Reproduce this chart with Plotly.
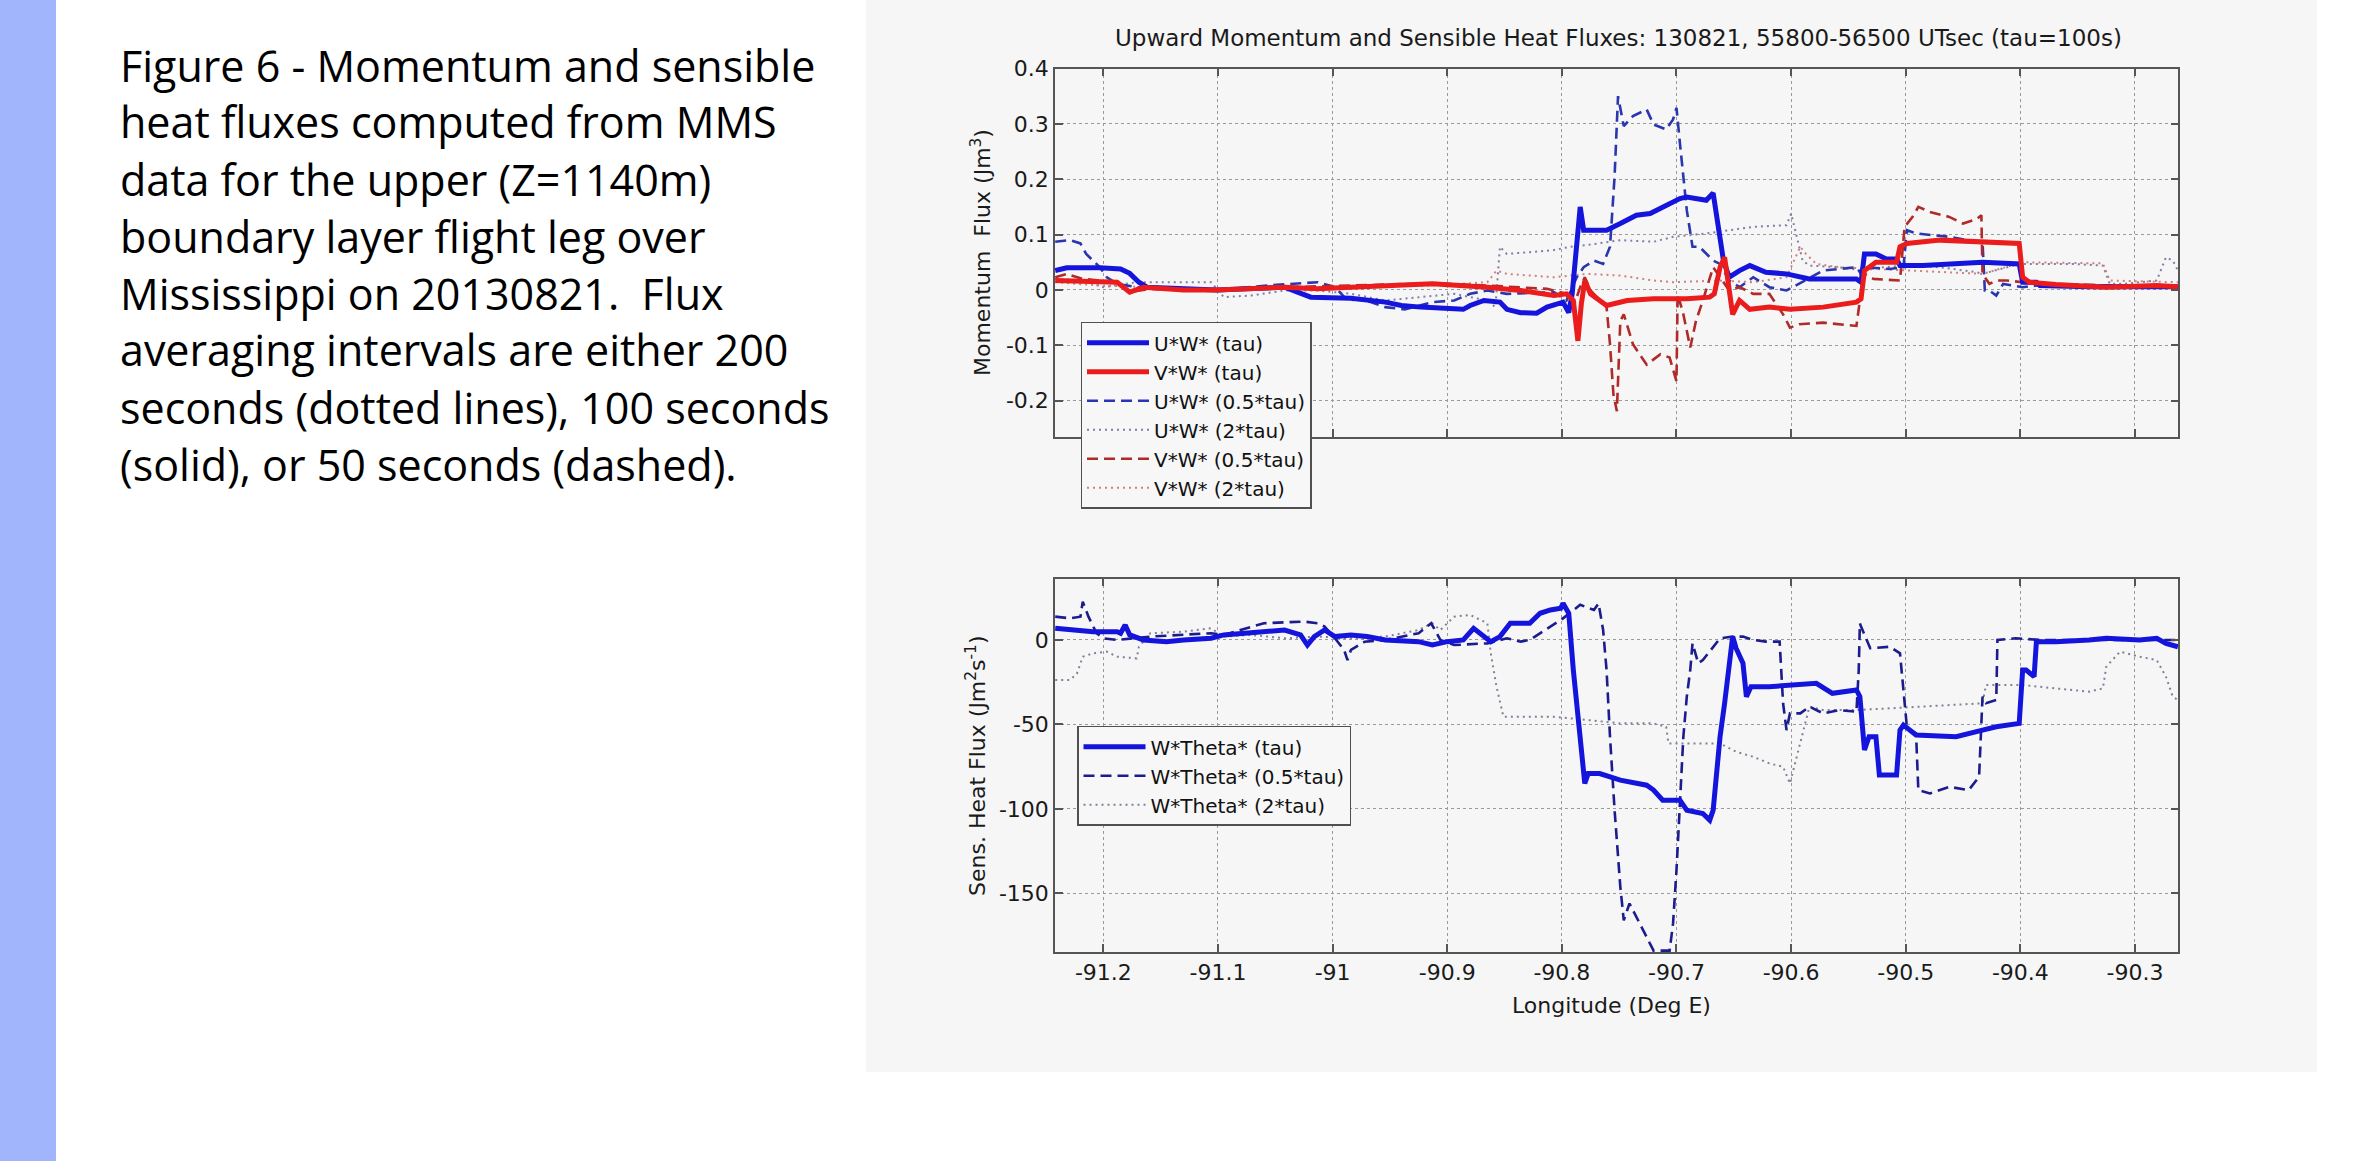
import plotly.graph_objects as go

W, H = 2354, 1161

# ---------------- data (longitude in deg E) ----------------
# Upper panel: momentum flux
uw_tau_lon = [-91.242, -91.232, -91.203, -91.185, -91.177, -91.169, -91.162, -91.101, -91.042, -91.025,
              -91.019, -90.984, -90.954, -90.940, -90.923, -90.886, -90.880, -90.868, -90.854, -90.848,
              -90.836, -90.822, -90.813, -90.799, -90.794, -90.791, -90.787, -90.784, -90.781, -90.761,
              -90.749, -90.735, -90.723, -90.714, -90.697, -90.691, -90.674, -90.668, -90.664, -90.659,
              -90.654, -90.645, -90.636, -90.622, -90.604, -90.593, -90.584, -90.543, -90.539, -90.536,
              -90.526, -90.517, -90.508, -90.505, -90.485, -90.433, -90.401, -90.398, -90.386, -90.383,
              -90.340, -90.2625]
uw_tau_val = [0.035, 0.040, 0.040, 0.038, 0.030, 0.014, 0.005, 0.000, 0.005, -0.007,
              -0.013, -0.015, -0.022, -0.028, -0.031, -0.035, -0.028, -0.019, -0.022, -0.035,
              -0.041, -0.042, -0.031, -0.022, -0.041, -0.007, 0.078, 0.150, 0.108, 0.108,
              0.120, 0.135, 0.138, 0.147, 0.165, 0.168, 0.162, 0.175, 0.126, 0.053,
              0.023, 0.035, 0.044, 0.032, 0.029, 0.023, 0.020, 0.020, 0.014, 0.065,
              0.065, 0.056, 0.056, 0.044, 0.044, 0.050, 0.047, 0.014, 0.014, 0.008,
              0.006, 0.006]

vw_tau_lon = [-91.242, -91.218, -91.188, -91.177, -91.165, -91.130, -91.101, -91.042, -91.013, -90.984,
              -90.954, -90.913, -90.865, -90.836, -90.807, -90.796, -90.790, -90.786, -90.783, -90.780,
              -90.775, -90.761, -90.743, -90.720, -90.691, -90.671, -90.667, -90.662, -90.658, -90.654,
              -90.651, -90.645, -90.636, -90.619, -90.601, -90.572, -90.543, -90.539, -90.536, -90.526,
              -90.508, -90.505, -90.499, -90.470, -90.433, -90.401, -90.398, -90.392, -90.369, -90.325,
              -90.281, -90.2625]
vw_tau_val = [0.017, 0.015, 0.014, -0.004, 0.005, 0.000, 0.000, 0.005, 0.002, 0.005,
              0.008, 0.011, 0.005, -0.001, -0.010, -0.007, -0.019, -0.092, -0.025, 0.017,
              -0.007, -0.028, -0.019, -0.016, -0.016, -0.013, -0.007, 0.041, 0.059, -0.007,
              -0.044, -0.019, -0.035, -0.031, -0.035, -0.031, -0.022, -0.016, 0.035, 0.050,
              0.050, 0.078, 0.084, 0.090, 0.087, 0.084, 0.023, 0.014, 0.010, 0.005,
              0.008, 0.006]

uw_half_lon = [-91.242, -91.229, -91.220, -91.215, -91.209, -91.203, -91.197, -91.188, -91.171, -91.101,
               -91.057, -91.013, -90.998, -90.987, -90.975, -90.954, -90.937, -90.913, -90.894, -90.880,
               -90.865, -90.848, -90.807, -90.796, -90.787, -90.781, -90.772, -90.764, -90.758, -90.754,
               -90.751, -90.746, -90.738, -90.726, -90.720, -90.709, -90.703, -90.700, -90.697, -90.691,
               -90.686, -90.680, -90.668, -90.662, -90.654, -90.645, -90.633, -90.619, -90.604, -90.593,
               -90.572, -90.543, -90.539, -90.536, -90.514, -90.502, -90.499, -90.491, -90.479, -90.462,
               -90.438, -90.433, -90.431, -90.427, -90.421, -90.415, -90.398, -90.386, -90.369, -90.2625]
uw_half_val = [0.087, 0.090, 0.084, 0.065, 0.053, 0.041, 0.023, 0.011, 0.005, 0.000,
               0.008, 0.014, 0.005, -0.019, -0.016, -0.031, -0.035, -0.022, -0.019, -0.007,
               -0.001, -0.007, -0.004, -0.019, 0.023, 0.041, 0.053, 0.047, 0.078, 0.205,
               0.350, 0.296, 0.314, 0.326, 0.299, 0.290, 0.308, 0.329, 0.265, 0.144,
               0.078, 0.078, 0.053, 0.047, 0.017, 0.005, 0.023, 0.005, -0.001, 0.011,
               0.035, 0.041, 0.029, 0.041, 0.038, 0.041, 0.108, 0.102, 0.099, 0.096,
               0.087, 0.087, -0.001, -0.001, -0.010, 0.011, 0.005, 0.008, 0.010, 0.006]

uw_2tau_lon = [-91.242, -91.218, -91.200, -91.171, -91.106, -91.095, -91.071, -91.042, -91.013, -90.984,
               -90.954, -90.925, -90.894, -90.865, -90.858, -90.854, -90.848, -90.807, -90.793, -90.778,
               -90.749, -90.720, -90.703, -90.674, -90.633, -90.604, -90.600, -90.595, -90.590, -90.584,
               -90.558, -90.537, -90.520, -90.499, -90.470, -90.438, -90.433, -90.401, -90.354, -90.328,
               -90.322, -90.310, -90.281, -90.273, -90.267, -90.2625]
uw_2tau_val = [0.020, 0.017, 0.005, 0.014, 0.014, -0.013, -0.010, -0.001, -0.001, -0.007,
               -0.019, -0.013, -0.007, -0.019, -0.031, 0.078, 0.065, 0.072, 0.078, 0.081,
               0.090, 0.087, 0.096, 0.102, 0.114, 0.117, 0.138, 0.096, 0.053, 0.044,
               0.041, 0.035, 0.041, 0.044, 0.041, 0.032, 0.029, 0.047, 0.047, 0.044,
               0.011, 0.011, 0.017, 0.059, 0.053, 0.035]

vw_half_lon = [-91.242, -91.232, -91.218, -91.203, -91.188, -91.177, -91.159, -91.101, -91.042, -90.984,
               -90.913, -90.865, -90.813, -90.796, -90.790, -90.784, -90.780, -90.775, -90.761, -90.758,
               -90.755, -90.752, -90.749, -90.746, -90.738, -90.726, -90.714, -90.706, -90.700, -90.699,
               -90.694, -90.688, -90.683, -90.677, -90.668, -90.662, -90.654, -90.645, -90.633, -90.619,
               -90.607, -90.601, -90.593, -90.572, -90.543, -90.540, -90.536, -90.528, -90.505, -90.501,
               -90.494, -90.489, -90.479, -90.462, -90.450, -90.438, -90.434, -90.433, -90.427, -90.421,
               -90.412, -90.398, -90.369, -90.2625]
vw_half_val = [0.023, 0.029, 0.020, 0.017, 0.014, -0.004, 0.002, -0.001, 0.005, 0.008,
               0.012, 0.008, 0.002, -0.007, -0.031, 0.005, 0.023, -0.001, -0.031, -0.098,
               -0.189, -0.219, -0.056, -0.044, -0.098, -0.135, -0.116, -0.122, -0.165, -0.007,
               -0.044, -0.104, -0.056, -0.019, 0.041, 0.023, -0.001, 0.005, -0.007, -0.007,
               -0.044, -0.068, -0.062, -0.059, -0.065, -0.019, 0.029, 0.020, 0.017, 0.114,
               0.132, 0.150, 0.141, 0.132, 0.120, 0.128, 0.135, 0.029, 0.011, 0.017,
               0.017, 0.014, 0.010, 0.006]

vw_2tau_lon = [-91.242, -91.203, -91.159, -91.101, -91.013, -90.913, -90.865, -90.857, -90.848, -90.807,
               -90.778, -90.749, -90.720, -90.703, -90.662, -90.633, -90.604, -90.598, -90.592, -90.587,
               -90.578, -90.558, -90.499, -90.433, -90.398, -90.328, -90.322, -90.2625]
vw_2tau_val = [0.014, 0.008, 0.005, 0.002, 0.005, 0.008, 0.014, 0.035, 0.029, 0.023,
               0.029, 0.026, 0.017, 0.014, 0.017, 0.014, 0.023, 0.050, 0.078, 0.065,
               0.047, 0.041, 0.035, 0.029, 0.050, 0.048, 0.017, 0.014]

# Lower panel: sensible heat flux
wt_tau_lon = [-91.242, -91.218, -91.209, -91.188, -91.185, -91.181, -91.177, -91.165, -91.145, -91.130,
              -91.106, -91.095, -91.071, -91.042, -91.028, -91.022, -91.016, -91.007, -90.998, -90.984,
              -90.970, -90.954, -90.925, -90.913, -90.900, -90.886, -90.877, -90.870, -90.862, -90.854,
              -90.845, -90.828, -90.819, -90.810, -90.801, -90.799, -90.794, -90.790, -90.784, -90.780,
              -90.777, -90.767, -90.749, -90.726, -90.720, -90.712, -90.697, -90.691, -90.677, -90.671,
              -90.668, -90.662, -90.658, -90.654, -90.651, -90.648, -90.642, -90.639, -90.635, -90.619,
              -90.593, -90.578, -90.564, -90.543, -90.540, -90.536, -90.532, -90.526, -90.523, -90.508,
              -90.505, -90.502, -90.491, -90.456, -90.433, -90.421, -90.401, -90.398, -90.395, -90.388,
              -90.386, -90.369, -90.340, -90.325, -90.296, -90.281, -90.273, -90.2625]
wt_tau_val = [6.9, 5.9, 4.9, 4.9, 4.0, 8.9, 3.0, 0.0, -1.0, 0.0,
              1.0, 3.0, 4.0, 5.9, 3.0, -3.0, 2.0, 5.9, 2.0, 3.0,
              2.0, 0.0, -1.0, -3.0, -1.0, 0.0, 6.9, 3.0, -1.0, 2.0,
              9.9, 9.9, 15.8, 17.8, 18.8, 21.7, 15.8, -17.8, -57.3, -85.0,
              -79.1, -79.1, -83.0, -86.0, -88.9, -94.9, -94.9, -100.8, -102.8, -106.7,
              -100.8, -57.3, -37.5, -17.8, 2.0, -4.9, -13.8, -33.6, -27.7, -27.7,
              -26.7, -25.7, -31.6, -29.6, -33.6, -65.2, -57.3, -57.3, -80.0, -80.0,
              -53.4, -50.4, -56.3, -57.3, -53.4, -51.4, -49.4, -17.8, -17.8, -21.7,
              -1.0, -1.0, 0.0, 1.0, 0.0, 1.0, -2.0, -4.0]

wt_half_lon = [-91.242, -91.229, -91.220, -91.218, -91.213, -91.206, -91.200, -91.188, -91.159, -91.130,
               -91.106, -91.095, -91.060, -91.025, -91.013, -91.007, -90.998, -90.990, -90.987, -90.984,
               -90.972, -90.954, -90.925, -90.914, -90.906, -90.894, -90.865, -90.848, -90.836, -90.828,
               -90.819, -90.807, -90.799, -90.784, -90.772, -90.768, -90.764, -90.761, -90.758, -90.754,
               -90.749, -90.746, -90.741, -90.732, -90.726, -90.720, -90.706, -90.703, -90.700, -90.697,
               -90.694, -90.691, -90.688, -90.686, -90.681, -90.677, -90.668, -90.662, -90.651, -90.642,
               -90.633, -90.622, -90.610, -90.607, -90.604, -90.601, -90.592, -90.584, -90.572, -90.558,
               -90.543, -90.541, -90.540, -90.539, -90.531, -90.514, -90.505, -90.501, -90.499, -90.496,
               -90.491, -90.489, -90.479, -90.462, -90.445, -90.436, -90.433, -90.430, -90.421, -90.420,
               -90.404, -90.383, -90.2625]
wt_half_val = [13.8, 12.8, 13.8, 22.7, 13.8, 4.0, 1.0, 0.0, 2.0, 3.0,
               4.0, 3.0, 9.9, 10.9, 9.9, 7.9, 1.0, -5.9, -11.9, -5.9,
               -1.0, 0.0, 4.0, 9.9, 0.0, -3.0, -2.0, 1.0, -1.0, 0.0,
               4.0, 8.9, 12.8, 20.8, 17.8, 21.7, 5.9, -17.8, -57.3, -100.8,
               -146.2, -166.0, -156.1, -168.0, -175.9, -184.0, -184.0, -168.0, -136.4, -96.8,
               -57.3, -33.6, -17.8, -2.0, -13.8, -11.9, -4.0, 1.0, 2.0, 2.0,
               0.0, -1.0, -1.0, -37.5, -53.4, -43.5, -43.5, -39.5, -43.5, -41.5,
               -42.5, -17.8, 9.9, 7.9, -4.9, -4.0, -7.9, -37.5, -51.4, -53.4,
               -55.3, -88.9, -90.9, -87.0, -88.9, -81.0, -33.6, -37.5, -35.5, 0.0,
               1.0, 0.0, 0.0]

wt_2tau_lon = [-91.242, -91.229, -91.223, -91.218, -91.209, -91.197, -91.188, -91.171, -91.169, -91.159,
               -91.130, -91.106, -91.095, -91.071, -91.042, -91.013, -90.984, -90.954, -90.925, -90.913,
               -90.906, -90.894, -90.880, -90.865, -90.862, -90.857, -90.851, -90.836, -90.807, -90.778,
               -90.749, -90.720, -90.709, -90.707, -90.691, -90.662, -90.648, -90.633, -90.619, -90.607,
               -90.601, -90.595, -90.590, -90.584, -90.572, -90.543, -90.514, -90.485, -90.456, -90.433,
               -90.430, -90.398, -90.369, -90.340, -90.328, -90.325, -90.313, -90.296, -90.281, -90.273,
               -90.267, -90.2625]
wt_2tau_val = [-23.7, -23.7, -19.8, -9.9, -7.9, -6.9, -9.9, -10.9, -4.0, 4.0,
               4.9, 6.9, 2.0, 3.0, 1.0, 2.0, 1.0, 2.0, 5.9, 9.9,
               5.9, 13.8, 14.8, 9.9, -7.9, -27.7, -45.5, -45.5, -45.5, -47.4,
               -49.4, -49.4, -51.4, -61.3, -61.3, -61.3, -66.2, -69.2, -73.1, -75.1,
               -85.0, -69.2, -55.3, -39.5, -41.5, -41.5, -40.5, -39.5, -38.5, -37.5,
               -26.7, -26.7, -28.7, -30.6, -28.7, -15.8, -6.9, -9.9, -11.9, -21.7,
               -33.6, -35.5]

# ---------------- ticks / labels ----------------
lon_ticks = [-91.2, -91.1, -91.0, -90.9, -90.8, -90.7, -90.6, -90.5, -90.4, -90.3]
lon_tick_text = ['-91.2', '-91.1', '-91', '-90.9', '-90.8', '-90.7', '-90.6', '-90.5', '-90.4', '-90.3']
mom_ticks = [-0.2, -0.1, 0.0, 0.1, 0.2, 0.3, 0.4]
mom_tick_text = ['-0.2', '-0.1', '0', '0.1', '0.2', '0.3', '0.4']
heat_ticks = [-150, -100, -50, 0]
heat_tick_text = ['-150', '-100', '-50', '0']

caption_lines = [
    "Figure 6 - Momentum and sensible",
    "heat fluxes computed from MMS",
    "data for the upper (Z=1140m)",
    "boundary layer flight leg over",
    "Mississippi on 20130821.\u00a0 Flux",
    "averaging intervals are either 200",
    "seconds (dotted lines), 100 seconds",
    "(solid), or 50 seconds (dashed).",
]

# ---------------- styling helpers ----------------
def px(x):
    return x / W

def py(y):
    return 1 - y / H

FONT = "DejaVu Sans"
BLUE = "#1414dc"
RED = "#ea1c1c"
BLUE_D = "#2a36b0"
RED_D = "#b02a2a"
BLUE_DOT = "#7e7ea8"
RED_DOT = "#d08080"
NAVY_D = "#1c1c8e"
GRAY_DOT = "#808098"
DASH = "11px,6px"
DOT = "2px,4px"

fig = go.Figure()

def add(lon, val, name, color, width, dash, rank, xa, ya, leg):
    fig.add_trace(go.Scatter(
        x=lon, y=val, mode="lines", name=name,
        line=dict(color=color, width=width, dash=dash),
        xaxis=xa, yaxis=ya, legend=leg, legendrank=rank,
        hoverinfo="skip"))

# top panel: dotted, dashed, then solid on top
add(uw_2tau_lon, uw_2tau_val, "U*W* (2*tau)", BLUE_DOT, 2, DOT, 4, "x", "y", "legend")
add(vw_2tau_lon, vw_2tau_val, "V*W* (2*tau)", RED_DOT, 2, DOT, 6, "x", "y", "legend")
add(uw_half_lon, uw_half_val, "U*W* (0.5*tau)", BLUE_D, 2.6, DASH, 3, "x", "y", "legend")
add(vw_half_lon, vw_half_val, "V*W* (0.5*tau)", RED_D, 2.6, DASH, 5, "x", "y", "legend")
add(uw_tau_lon, uw_tau_val, "U*W* (tau)", BLUE, 5, "solid", 1, "x", "y", "legend")
add(vw_tau_lon, vw_tau_val, "V*W* (tau)", RED, 5, "solid", 2, "x", "y", "legend")

# bottom panel
add(wt_2tau_lon, wt_2tau_val, "W*Theta* (2*tau)", GRAY_DOT, 2, DOT, 3, "x2", "y2", "legend2")
add(wt_half_lon, wt_half_val, "W*Theta* (0.5*tau)", NAVY_D, 2.6, DASH, 2, "x2", "y2", "legend2")
add(wt_tau_lon, wt_tau_val, "W*Theta* (tau)", BLUE, 5, "solid", 1, "x2", "y2", "legend2")

axis_common = dict(
    ticks="inside", ticklen=8, tickwidth=1.5, tickcolor="#555555",
    showline=True, linecolor="#555555", linewidth=1.5, mirror="ticks",
    showgrid=True, gridcolor="#9a9a9a", gridwidth=1, griddash="dot",
    zeroline=False, automargin=False,
    tickfont=dict(family=FONT, size=22, color="#1a1a1a"),
)

X0, X1 = 1055, 2178.3
legend_common = dict(
    xanchor="left", yanchor="top",
    bgcolor="#f7f7f7", bordercolor="#505050", borderwidth=1.5,
    font=dict(family=FONT, size=20, color="#111"), itemwidth=62,
    tracegroupgap=0, traceorder="normal",
)
fig.update_layout(
    width=W, height=H,
    margin=dict(l=0, r=0, t=0, b=0, pad=0, autoexpand=False),
    paper_bgcolor="white",
    plot_bgcolor="#f7f7f7",
    showlegend=True,
    xaxis=dict(domain=[px(X0), px(X1)], range=[-91.2422, -90.2622], anchor="y",
               tickvals=lon_ticks, ticktext=lon_tick_text, showticklabels=False, **axis_common),
    yaxis=dict(domain=[py(437), py(68.5)], range=[-0.2656, 0.4], anchor="x",
               tickvals=mom_ticks, ticktext=mom_tick_text, **axis_common),
    xaxis2=dict(domain=[px(X0), px(X1)], range=[-91.2422, -90.2622], anchor="y2",
                tickvals=lon_ticks, ticktext=lon_tick_text, **axis_common),
    yaxis2=dict(domain=[py(952), py(578.5)], range=[-184.8, 36.4], anchor="x2",
                tickvals=heat_ticks, ticktext=heat_tick_text, **axis_common),
    legend=dict(x=px(1080.5), y=py(321.7), **legend_common),
    legend2=dict(x=px(1077), y=py(725.7), **legend_common),
)

shapes = [
    dict(type="rect", xref="paper", yref="paper", x0=0, x1=px(56), y0=0, y1=1,
         fillcolor="#a0b5fb", line=dict(width=0), layer="below"),
    dict(type="rect", xref="paper", yref="paper", x0=px(866), x1=px(2317), y0=py(1072), y1=1,
         fillcolor="#f6f6f6", line=dict(width=0), layer="below"),
]
fig.update_layout(shapes=shapes)

ann = []
# caption text at left
for i, line in enumerate(caption_lines):
    base = 80 + 57 * i
    ann.append(dict(text=line, xref="paper", yref="paper", x=px(118), y=py(base - 15),
                    xanchor="left", yanchor="middle", showarrow=False,
                    font=dict(family="Open Sans", size=43, color="black")))
# chart title
ann.append(dict(text="Upward Momentum and Sensible Heat Fluxes: 130821, 55800-56500 UTsec (tau=100s)",
                xref="paper", yref="paper", x=px(1618), y=py(38), xanchor="center", yanchor="middle",
                showarrow=False, font=dict(family=FONT, size=23, color="#1a1a1a")))
# axis titles
ann.append(dict(text="Momentum  Flux (Jm<sup>3</sup>)", xref="paper", yref="paper",
                x=px(981), y=py(253), xanchor="center", yanchor="middle", textangle=-90,
                showarrow=False, font=dict(family=FONT, size=22, color="#1a1a1a")))
ann.append(dict(text="Sens. Heat Flux (Jm<sup>2</sup>s<sup>-1</sup>)", xref="paper", yref="paper",
                x=px(976), y=py(766), xanchor="center", yanchor="middle", textangle=-90,
                showarrow=False, font=dict(family=FONT, size=22, color="#1a1a1a")))
ann.append(dict(text="Longitude (Deg E)", xref="paper", yref="paper",
                x=px(1612), y=py(1005), xanchor="center", yanchor="middle",
                showarrow=False, font=dict(family=FONT, size=22, color="#1a1a1a")))
fig.update_layout(annotations=ann)

post = (
    "document.body.style.margin='0px';"
    "document.documentElement.style.overflow='hidden';"
    "var gd=document.getElementsByClassName('plotly-graph-div')[0];"
    "gd.style.position='fixed';gd.style.top='0px';gd.style.left='0px';"
)
fig.write_html("out.html", config={"displayModeBar": False}, post_script=post)
